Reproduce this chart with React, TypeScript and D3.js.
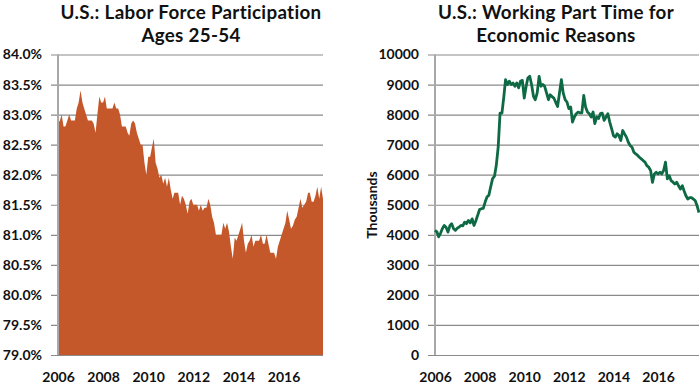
import { useEffect, useRef } from 'react';
import { area, axisBottom, axisLeft, line, scaleLinear, scaleTime, select, timeFormat } from 'd3';

// monthly series, first point = January 2006
const START_YEAR = 2006;
const YEAR_TICKS = [2006, 2008, 2010, 2012, 2014, 2016];
const PARTICIPATION_TICKS = [79, 79.5, 80, 80.5, 81, 81.5, 82, 82.5, 83, 83.5, 84];
const PART_TIME_TICKS = [0, 1000, 2000, 3000, 4000, 5000, 6000, 7000, 8000, 9000, 10000];

// prime-age labor force participation rate, %
const participation = [
  82.85, 82.9, 83.0, 82.8, 82.8, 82.9, 83.0, 82.9, 82.9, 82.9, 83.1, 83.2,
  83.4, 83.2, 83.1, 83.0, 82.9, 82.9, 82.9, 82.85, 82.7, 83.0, 83.3, 83.2,
  83.2, 83.3, 83.1, 83.1, 83.1, 83.1, 83.2, 83.1, 83.1, 83.0, 82.8, 82.8,
  82.8, 82.7, 82.65, 82.85, 82.9, 82.85, 82.7, 82.6, 82.5, 82.5, 82.2, 82.0,
  82.3, 82.3, 82.45, 82.6, 82.2, 82.1, 81.95, 82.0, 81.85, 81.95, 81.8, 81.95,
  81.75, 81.6, 81.7, 81.7, 81.7, 81.5, 81.65, 81.6, 81.5, 81.35, 81.55, 81.6,
  81.5, 81.5, 81.5, 81.4, 81.5, 81.4, 81.45, 81.45, 81.6, 81.5, 81.3, 81.2,
  81.0, 81.0, 81.0, 81.0, 81.2, 81.1, 81.2, 81.05, 80.8, 80.6, 80.95, 80.9,
  81.0, 81.1, 81.2, 80.9, 80.7, 80.85, 80.9, 81.0, 80.8, 80.9, 80.9, 80.9,
  81.0, 80.85, 80.85, 81.0, 80.85, 80.7, 80.7, 80.7, 80.6, 80.8, 80.9, 81.0,
  81.1, 81.2, 81.4, 81.25, 81.1, 81.15, 81.25, 81.3, 81.45, 81.6, 81.45, 81.5,
  81.55, 81.7, 81.7, 81.55, 81.55, 81.65, 81.8, 81.6, 81.8, 81.6,
];

// part time for economic reasons, thousands
const partTime = [
  4150, 4100, 3930, 4050, 4200, 4310, 4250, 4090, 4300, 4370, 4200, 4150,
  4220, 4260, 4310, 4300, 4420, 4370, 4480, 4400, 4530, 4310, 4470, 4650,
  4840, 4870, 4880, 5090, 5260, 5320, 5600, 5870, 5950, 6320, 6930, 8050,
  8050, 8600, 9160, 9000, 9110, 9000, 9050, 8940, 9050, 8890, 9110, 9140,
  8550, 8940, 9220, 9275, 9000, 8610, 8495, 8720, 9275, 8940, 9000, 8940,
  8720, 8495, 8660, 8600, 8550, 8400, 8270, 8720, 9160, 8720, 8500, 8420,
  8200, 8250, 7750, 7920, 8030, 8085, 8060, 8060, 8640, 8250, 8085, 8030,
  7920, 8085, 7700, 7920, 7870, 8030, 8050, 7810, 7920, 8030, 7750, 7530,
  7300, 7250, 7360, 7300, 7140, 7470, 7360, 7250, 7080, 6970, 6915, 6750,
  6690, 6640, 6580, 6525, 6470, 6420, 6300, 6250, 6140, 5745, 6025, 6080,
  6025, 6080, 6025, 6140, 6415, 5860, 5970, 5800, 5750, 5690, 5750, 5630,
  5520, 5630, 5465, 5300, 5190, 5240, 5240, 5190, 5130, 4960, 4740,
];

const FONT = 'Lato, "Open Sans", sans-serif';
const monthDate = (i: number) => new Date(START_YEAR, i, 1);

export default function App() {
  const svgRef = useRef<SVGSVGElement | null>(null);

  useEffect(() => {
    const svgElement = svgRef.current;
    if (!svgElement) return;
    const svg = select(svgElement);
    svg.selectAll('*').remove();

    const panels = [
      {
        title: ['U.S.: Labor Force Participation', 'Ages 25-54'],
        titleX: 191,
        left: 58,
        right: 323,
        values: participation,
        ticks: PARTICIPATION_TICKS,
        domain: [79, 84],
        fmt: (d: number) => `${d.toFixed(1)}%`,
        kind: 'area',
      },
      {
        title: ['U.S.: Working Part Time for', 'Economic Reasons'],
        titleX: 556,
        left: 435,
        right: 699,
        values: partTime,
        ticks: PART_TIME_TICKS,
        domain: [0, 10000],
        fmt: (d: number) => `${d}`,
        kind: 'line',
      },
    ];
    const top = 54.5;
    const bottom = 355;

    panels.forEach((p) => {
      const x = scaleTime()
        .domain([monthDate(0), monthDate(p.values.length - 1)])
        .range([p.left, p.right]);
      const y = scaleLinear().domain(p.domain).range([bottom, top]);

      const g = svg.append('g');

      // gridlines + y labels
      const yAxis = g
        .append('g')
        .attr('transform', `translate(${p.left - 7},0)`)
        .call(axisLeft(y).tickValues(p.ticks).tickFormat((d) => p.fmt(d as number)).tickSize(-(p.right - p.left + 7)).tickPadding(9));
      yAxis.select('.domain').remove();
      yAxis.selectAll('.tick line').attr('stroke', '#8a8a8a').attr('stroke-width', 1.2);
      yAxis
        .selectAll('.tick text')
        .attr('fill', '#111')
        .attr('font-family', FONT)
        .attr('font-weight', 700)
        .attr('font-size', 14);

      if (p.kind === 'area') {
        g.append('path')
          .datum(p.values)
          .attr('fill', '#C4582A')
          .attr('d', area<number>().x((_, i) => x(monthDate(i))).y0(bottom).y1((d) => y(d)));
      }

      // vertical axis line
      g.append('line')
        .attr('x1', p.left)
        .attr('x2', p.left)
        .attr('y1', top)
        .attr('y2', bottom)
        .attr('stroke', '#a8a8a8')
        .attr('stroke-width', 2);

      if (p.kind === 'line') {
        g.append('path')
          .datum(p.values)
          .attr('fill', 'none')
          .attr('stroke', '#0E6A45')
          .attr('stroke-width', 2.8)
          .attr('stroke-linejoin', 'round')
          .attr('d', line<number>().x((_, i) => x(monthDate(i))).y((d) => y(d)));
      }

      const xAxis = g
        .append('g')
        .attr('transform', `translate(0,${bottom})`)
        .call(axisBottom(x).tickValues(YEAR_TICKS.map((yr) => new Date(yr, 0, 1))).tickFormat((d) => timeFormat('%Y')(d as Date)).tickSize(0).tickPadding(17.5));
      xAxis.select('.domain').remove();
      xAxis
        .selectAll('.tick text')
        .attr('fill', '#111')
        .attr('font-family', FONT)
        .attr('font-weight', 700)
        .attr('font-size', 14);

      p.title.forEach((t, i) => {
        g.append('text')
          .attr('x', p.titleX)
          .attr('y', 18.8 + i * 22.7)
          .attr('text-anchor', 'middle')
          .attr('font-family', FONT)
          .attr('font-weight', 700)
          .attr('font-size', 18.8)
          .attr('letter-spacing', 0.3)
          .attr('fill', '#111')
          .text(t);
      });
    });

    svg
      .append('text')
      .attr('transform', 'translate(377,205) rotate(-90)')
      .attr('text-anchor', 'middle')
      .attr('font-family', FONT)
      .attr('font-weight', 700)
      .attr('font-size', 14)
      .attr('fill', '#111')
      .text('Thousands');
  }, []);

  return (
    <div style={{ position: 'absolute', left: 0, top: 0, width: 700, height: 385, background: '#fff' }}>
      <svg ref={svgRef} width={700} height={385} style={{ display: 'block' }} />
    </div>
  );
}
